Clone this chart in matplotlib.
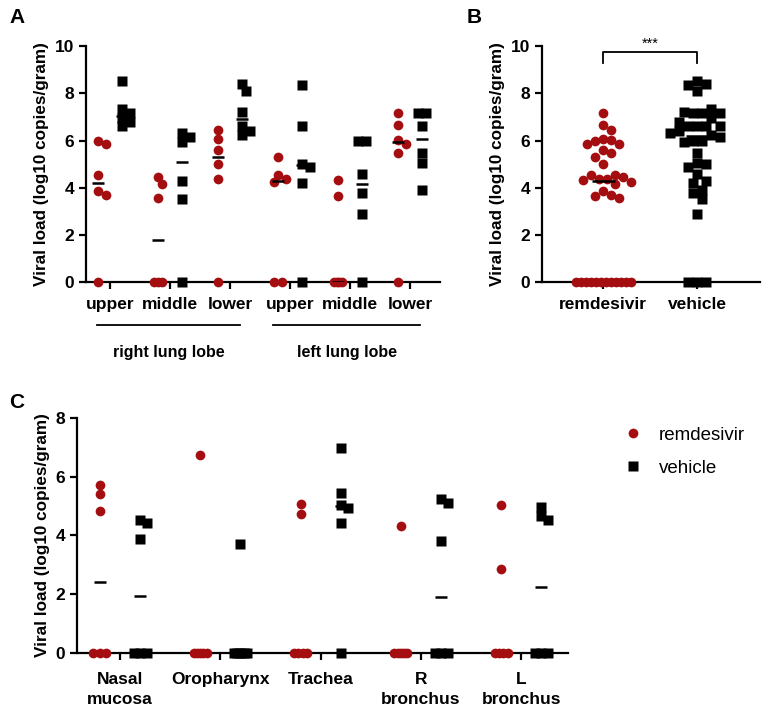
import numpy as np
import matplotlib
matplotlib.use('Agg')
import matplotlib.pyplot as plt
import matplotlib.transforms as mtransforms
from matplotlib.lines import Line2D

plt.rcParams['font.family'] = ['Liberation Sans', 'DejaVu Sans']
plt.rcParams['font.weight'] = 'bold'
plt.rcParams['axes.labelweight'] = 'bold'

RED = '#a50e10'

# ---- panel A: lung lobes (log10 copies/gram) ----
lobe_labels = ['upper', 'middle', 'lower', 'upper', 'middle', 'lower']
a_remdesivir = [
    [6.0, 5.85, 4.55, 3.85, 3.7, 0.0],
    [4.45, 4.15, 3.55, 0.0, 0.0, 0.0],
    [6.45, 6.08, 5.59, 5.02, 4.36, 0.0],
    [5.32, 4.52, 4.36, 4.24, 0.0, 0.0],
    [4.31, 3.64, 0.0, 0.0, 0.0, 0.0],
    [7.17, 6.65, 6.04, 5.84, 5.49, 0.0],
]
a_vehicle = [
    [8.52, 7.35, 7.15, 6.95, 6.8, 6.6],
    [6.3, 6.15, 5.95, 4.27, 3.5, 0.0],
    [8.4, 8.1, 7.2, 6.6, 6.4, 6.25],
    [8.37, 6.62, 5.02, 4.88, 4.2, 0.0],
    [5.97, 5.97, 4.57, 3.78, 2.9, 0.0],
    [7.17, 7.17, 6.6, 5.49, 5.06, 3.92],
]

# ---- panel B: pooled lung values ----
b_labels = ['remdesivir', 'vehicle']
b_remdesivir = [v for grp in a_remdesivir for v in grp]
b_vehicle = [v for grp in a_vehicle for v in grp]

# ---- panel C: upper respiratory tract ----
c_labels = ['Nasal\nmucosa', 'Oropharynx', 'Trachea', 'R\nbronchus', 'L\nbronchus']
c_remdesivir = [
    [5.73, 5.41, 4.82, 0.0, 0.0, 0.0],
    [6.73, 0.0, 0.0, 0.0, 0.0, 0.0],
    [5.08, 4.73, 0.0, 0.0, 0.0, 0.0],
    [4.33, 0.0, 0.0, 0.0, 0.0, 0.0],
    [5.02, 2.86, 0.0, 0.0, 0.0, 0.0],
]
c_vehicle = [
    [4.54, 4.43, 3.88, 0.0, 0.0, 0.0],
    [3.72, 0.0, 0.0, 0.0, 0.0, 0.0],
    [6.98, 5.43, 5.03, 4.94, 4.43, 0.0],
    [5.24, 5.12, 3.8, 0.0, 0.0, 0.0],
    [4.97, 4.65, 4.51, 0.0, 0.0, 0.0],
]


def swarm(vals, xc, xpx, ypx, dist, roww):
    # beeswarm in pixels; tied values packed into a row of width roww
    vals = np.asarray(vals, float)
    xs = np.zeros(len(vals))
    placed = []
    uniq, counts = np.unique(vals, return_counts=True)
    for u, n in zip(uniq, counts):
        if n > 1:
            gap = min(dist, roww / (n - 1))
            idx = np.where(vals == u)[0]
            for k, i in enumerate(idx):
                c = (k - (n - 1) / 2) * gap
                placed.append((c, u * ypx))
                xs[i] = xc + c / xpx
    cands = [0.0]
    for k in range(1, 60):
        cands += [k * dist * 0.5, -k * dist * 0.5]
    for i in np.argsort(-vals):
        if np.sum(vals == vals[i]) > 1:
            continue
        y = vals[i] * ypx
        for c in cands:
            if all((c - px) ** 2 + (y - py) ** 2 >= dist ** 2 for px, py in placed):
                break
        placed.append((c, y))
        xs[i] = xc + c / xpx
    return xs


def style_axis(ax):
    for s in ['top', 'right']:
        ax.spines[s].set_visible(False)
    for s in ['left', 'bottom']:
        ax.spines[s].set_linewidth(1.6)
    ax.tick_params(width=1.6, length=5, labelsize=12.5, direction='out')
    ax.tick_params(axis='x', pad=6)
    ax.set_ylabel('Viral load (log10 copies/gram)', fontsize=12.3)


fig = plt.figure(figsize=(7.68, 7.12), dpi=100)

# ---------------- A ----------------
axA = fig.add_axes([0.112, 0.604, 0.461, 0.331])
xpx, ypx = 60.0, 23.6
for i in range(6):
    xr = swarm(a_remdesivir[i], i - 0.2, xpx, ypx, 7.5, 8)
    xv = swarm(a_vehicle[i], i + 0.2, xpx, ypx, 7.5, 8)
    axA.plot(xr, a_remdesivir[i], 'o', color=RED, ms=7, mec='none', clip_on=False, zorder=3)
    axA.plot(xv, a_vehicle[i], 's', color='black', ms=7, mec='none', clip_on=False, zorder=3)
    axA.hlines(np.median(a_remdesivir[i]), i - 0.3, i - 0.1, color='black', lw=1.8, zorder=4)
    axA.hlines(np.median(a_vehicle[i]), i + 0.1, i + 0.3, color='black', lw=1.8, zorder=4)
axA.set_xlim(-0.4, 5.5)
axA.set_ylim(0, 10)
axA.set_yticks([0, 2, 4, 6, 8, 10])
axA.set_xticks(range(6))
axA.set_xticklabels(lobe_labels)
style_axis(axA)
trA = mtransforms.blended_transform_factory(axA.transData, axA.transAxes)
axA.plot([-0.22, 2.17], [-0.182, -0.182], color='black', lw=1.3, transform=trA, clip_on=False)
axA.plot([2.72, 5.17], [-0.182, -0.182], color='black', lw=1.3, transform=trA, clip_on=False)
axA.text(0.98, -0.30, 'right lung lobe', transform=trA, ha='center', va='center', fontsize=11.5)
axA.text(3.95, -0.30, 'left lung lobe', transform=trA, ha='center', va='center', fontsize=11.5)
fig.text(0.012, 0.975, 'A', fontsize=15, fontweight='bold', va='center')

# ---------------- B ----------------
axB = fig.add_axes([0.706, 0.604, 0.284, 0.331])
xpx, ypx = 94.0, 23.6
xr = swarm(b_remdesivir, 0, xpx, ypx, 8.0, 55)
xv = swarm(b_vehicle, 1, xpx, ypx, 9.0, 18)
axB.plot(xr, b_remdesivir, 'o', color=RED, ms=7, mec='none', clip_on=False, zorder=3)
axB.plot(xv, b_vehicle, 's', color='black', ms=7, mec='none', clip_on=False, zorder=3)
axB.hlines(np.median(b_remdesivir), -0.12, 0.12, color='black', lw=1.8, zorder=4)
axB.hlines(np.median(b_vehicle), 0.88, 1.12, color='black', lw=1.8, zorder=4)
axB.set_xlim(-0.65, 1.67)
axB.set_ylim(0, 10)
axB.set_yticks([0, 2, 4, 6, 8, 10])
axB.set_xticks([0, 1])
axB.set_xticklabels(b_labels)
style_axis(axB)
axB.plot([0, 0, 1, 1], [9.3, 9.75, 9.75, 9.3], color='black', lw=1.3, clip_on=False)
axB.text(0.5, 9.8, '***', ha='center', va='bottom', fontsize=10.5, fontweight='normal')
fig.text(0.607, 0.975, 'B', fontsize=15, fontweight='bold', va='center')

# ---------------- C ----------------
axC = fig.add_axes([0.100, 0.083, 0.639, 0.330])
xpx, ypx = 100.5, 29.4
for i in range(5):
    xr = swarm(c_remdesivir[i], i - 0.2, xpx, ypx, 7.0, 13)
    xv = swarm(c_vehicle[i], i + 0.2, xpx, ypx, 7.0, 13)
    axC.plot(xr, c_remdesivir[i], 'o', color=RED, ms=7, mec='none', clip_on=False, zorder=3)
    axC.plot(xv, c_vehicle[i], 's', color='black', ms=6.5, mec='none', clip_on=False, zorder=3)
    m1, m2 = np.median(c_remdesivir[i]), np.median(c_vehicle[i])
    if m1 > 0:
        axC.hlines(m1, i - 0.26, i - 0.14, color='black', lw=1.8, zorder=4)
    if m2 > 0:
        axC.hlines(m2, i + 0.14, i + 0.26, color='black', lw=1.8, zorder=4)
axC.set_xlim(-0.43, 4.46)
axC.set_ylim(0, 8)
axC.set_yticks([0, 2, 4, 6, 8])
axC.set_xticks(range(5))
axC.set_xticklabels(c_labels, linespacing=1.35, va='top')
style_axis(axC)
axC.tick_params(axis='x', pad=9)
fig.text(0.012, 0.434, 'C', fontsize=15, fontweight='bold', va='center')

handles = [Line2D([], [], marker='o', ls='none', color=RED, ms=7, mec='none'),
           Line2D([], [], marker='s', ls='none', color='black', ms=6.5, mec='none')]
fig.legend(handles, ['remdesivir', 'vehicle'], loc='upper left',
           bbox_to_anchor=(0.812, 0.401), frameon=False, handlelength=1.0,
           handletextpad=0.9, labelspacing=0.85, borderpad=0, borderaxespad=0,
           prop={'family': 'Liberation Sans', 'weight': 'normal', 'size': 13.5})

fig.savefig('out.png', dpi=100)
